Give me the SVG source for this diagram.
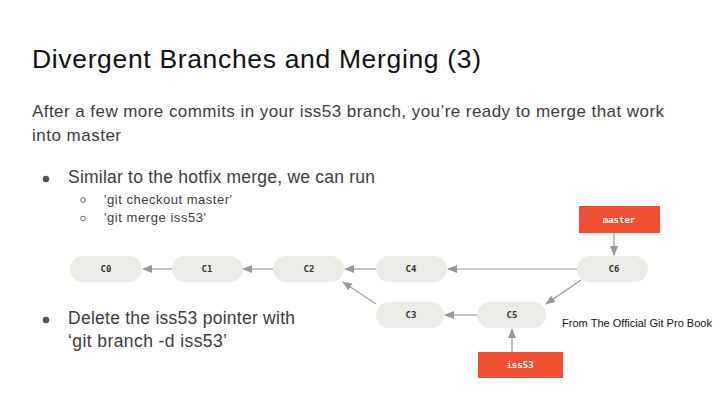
<svg xmlns="http://www.w3.org/2000/svg" width="720" height="405" viewBox="0 0 720 405">
<defs>
<marker id="ah" markerWidth="10" markerHeight="8" refX="9" refY="4" orient="auto" markerUnits="userSpaceOnUse">
<path d="M0,0 L10,4 L0,8 z" fill="#999"/>
</marker>
<style>
.t{font-family:"Liberation Sans",Arial,sans-serif;fill:#3c3c3c}
.pill{fill:#ecebe6}
.pt{font-family:"DejaVu Sans Mono","Liberation Mono",monospace;font-size:9px;font-weight:bold;fill:#333;text-anchor:middle}
.lab{fill:#f14e32}
.lt{font-family:"DejaVu Sans Mono","Liberation Mono",monospace;font-size:9px;font-weight:bold;fill:#fff;text-anchor:middle}
.c{stroke:#999;stroke-width:1.2;fill:none;marker-end:url(#ah)}
.b{fill:#555}
.sb{fill:none;stroke:#555;stroke-width:0.9}
</style>
</defs>
<rect width="720" height="405" fill="#fff"/>
<text class="t" x="32" y="68" font-size="26.5" style="fill:#111" textLength="449" lengthAdjust="spacing">Divergent Branches and Merging (3)</text>
<text class="t" x="32" y="117" font-size="17" textLength="632" lengthAdjust="spacing">After a few more commits in your iss53 branch, you’re ready to merge that work</text>
<text class="t" x="32" y="141" font-size="17" textLength="89" lengthAdjust="spacing">into master</text>
<circle class="b" cx="46" cy="179" r="3.2"/>
<text class="t" x="68" y="183" font-size="17.5" textLength="307" lengthAdjust="spacing">Similar to the hotfix merge, we can run</text>
<circle class="sb" cx="83" cy="200" r="2.3"/>
<text class="t" x="104" y="204" font-size="13" textLength="128" lengthAdjust="spacing">'git checkout master'</text>
<circle class="sb" cx="83" cy="218.5" r="2.3"/>
<text class="t" x="104" y="222" font-size="13" textLength="102" lengthAdjust="spacing">'git merge iss53'</text>
<circle class="b" cx="46" cy="320" r="3.2"/>
<text class="t" x="68" y="324" font-size="17.5" textLength="227" lengthAdjust="spacing">Delete the iss53 pointer with</text>
<text class="t" x="68" y="347" font-size="17.5" textLength="159" lengthAdjust="spacing">‘git branch -d iss53’</text>
<text class="t" x="562" y="327" font-size="11" style="fill:#111" textLength="150" lengthAdjust="spacing">From The Official Git Pro Book</text>
<g id="connectors">
<line class="c" x1="172" y1="269" x2="143" y2="269"/>
<line class="c" x1="273" y1="269" x2="243" y2="269"/>
<line class="c" x1="376" y1="269" x2="345" y2="269"/>
<line class="c" x1="577" y1="269" x2="448" y2="269"/>
<line class="c" x1="376" y1="304" x2="343" y2="282"/>
<line class="c" x1="477" y1="315" x2="445" y2="315"/>
<line class="c" x1="581" y1="280" x2="546" y2="304"/>
<line class="c" x1="614" y1="233" x2="614" y2="255"/>
<line class="c" x1="512" y1="352" x2="512" y2="329"/>
</g>
<g id="C0"><rect class="pill" x="70" y="256" width="72" height="26" rx="13"/><text class="pt" x="106" y="272">C0</text></g>
<g id="C1"><rect class="pill" x="172" y="256" width="71" height="26" rx="13"/><text class="pt" x="207" y="272">C1</text></g>
<g id="C2"><rect class="pill" x="273" y="256" width="71" height="26" rx="13"/><text class="pt" x="309" y="272">C2</text></g>
<g id="C4"><rect class="pill" x="376" y="256" width="71" height="26" rx="13"/><text class="pt" x="411" y="272">C4</text></g>
<g id="C6"><rect class="pill" x="577" y="256" width="71" height="26" rx="13"/><text class="pt" x="614" y="272">C6</text></g>
<g id="C3"><rect class="pill" x="376" y="302" width="68" height="26" rx="13"/><text class="pt" x="411" y="318">C3</text></g>
<g id="C5"><rect class="pill" x="477" y="302" width="69" height="26" rx="13"/><text class="pt" x="512" y="318">C5</text></g>
<g id="master"><rect class="lab" x="579" y="206" width="81" height="27"/><text class="lt" x="619" y="223">master</text></g>
<g id="iss53"><rect class="lab" x="478" y="352" width="85" height="26"/><text class="lt" x="520" y="368">iss53</text></g>
</svg>
